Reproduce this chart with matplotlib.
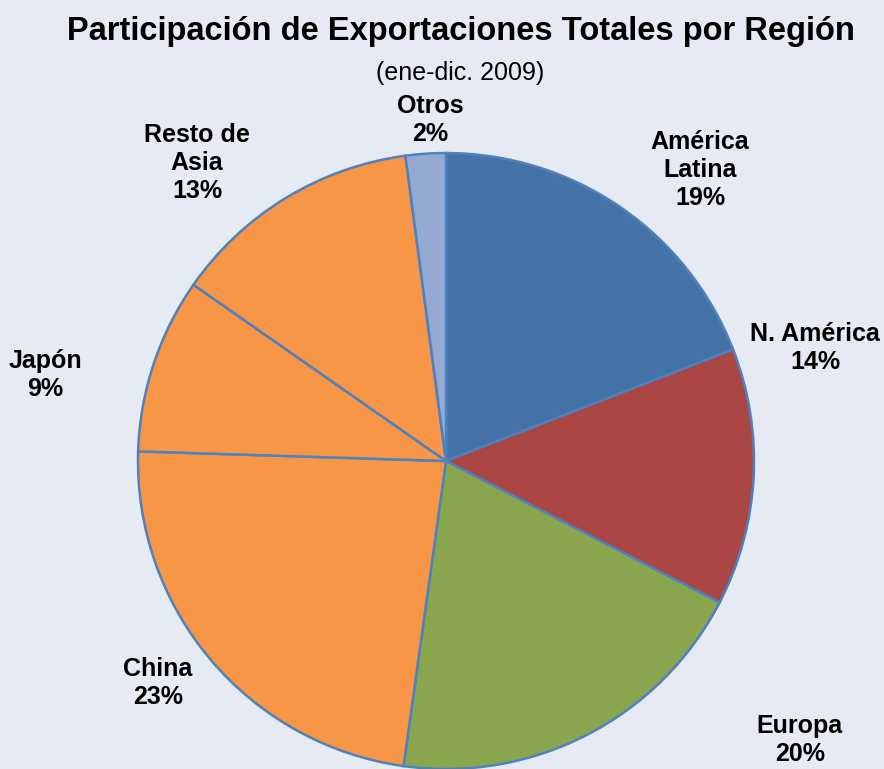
import matplotlib.pyplot as plt

plt.rcParams['font.family'] = ['Liberation Sans', 'DejaVu Sans']

regiones = ['América\nLatina', 'N. América', 'Europa', 'China', 'Japón', 'Resto de\nAsia', 'Otros']
participacion = [19.1, 13.5, 19.6, 23.3, 9.2, 13.2, 2.1]   # slice sizes
pct_etiqueta = ['19%', '14%', '20%', '23%', '9%', '13%', '2%']  # as printed
colores = ['#4572A7', '#AA4643', '#89A54E', '#F79646', '#F79646', '#F79646', '#95AAD3']
# label positions (pie radius = 1)
pos_etiquetas = [(0.825, 0.945), (1.198, 0.367), (1.149, -0.906), (-0.935, -0.721),
                 (-1.302, 0.279), (-0.808, 0.968), (-0.052, 1.107)]

fondo = '#E6EAF2'
fig = plt.figure(figsize=(8.84, 7.69), dpi=100, facecolor=fondo)
ax = fig.add_axes([0, 0, 1, 1])
ax.set_facecolor(fondo)

ax.pie(participacion, colors=colores, startangle=90, counterclock=False,
       radius=1, wedgeprops=dict(edgecolor='#4F81BD', linewidth=1.8))

for reg, pct, (x, y) in zip(regiones, pct_etiqueta, pos_etiquetas):
    ax.text(x, y, f'{reg}\n{pct}', ha='center', va='center', fontsize=18,
            fontweight='bold', linespacing=1.2)

ax.set_xlim(-1.448, 1.422)
ax.set_ylim(-1.0, 1.497)
ax.set_aspect('auto')
ax.axis('off')

fig.text(0.521, 0.959, 'Participación de Exportaciones Totales por Región',
         ha='center', va='center', fontsize=23.5, fontweight='bold')
fig.text(0.521, 0.905, '(ene-dic. 2009)', ha='center', va='center', fontsize=18)

fig.savefig('out.png', dpi=100, facecolor=fondo)
